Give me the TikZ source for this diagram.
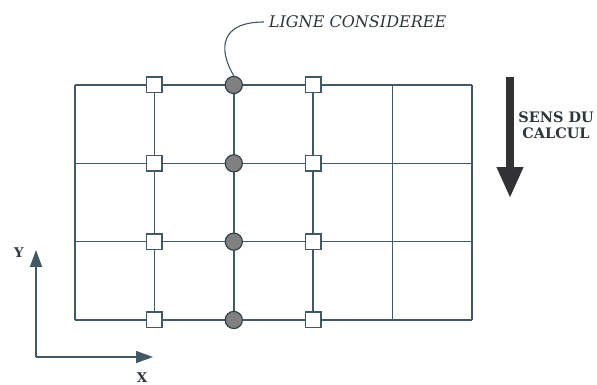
\documentclass[tikz,border=0pt]{standalone}
\usepackage{fontspec}
\setmainfont{DejaVu Serif}
\usetikzlibrary{arrows.meta}
\definecolor{gridcol}{RGB}{66,88,98}
\definecolor{markcol}{RGB}{128,128,128}
\definecolor{arrowcol}{RGB}{50,50,54}
\definecolor{textcol}{RGB}{45,55,60}
\tikzset{
	gridline/.style={draw=gridcol, line width=1.1pt},
	sqmark/.style={shape=rectangle, draw=gridcol, fill=white, line width=1pt, minimum size=0.39cm, inner sep=0pt},
	cimark/.style={shape=circle, draw=gridcol!70!black, fill=markcol, line width=0.8pt, minimum size=0.43cm, inner sep=0pt},
	axis/.style={draw=gridcol, line width=1pt, -{Triangle[width=8.5pt, length=12pt]}},
	bigarrow/.style={draw=arrowcol, line width=5pt, -{Triangle[width=17.7pt, length=22pt]}}
}

\begin{document}
\begin{tikzpicture}
	\useasboundingbox (0,0) rectangle (14.925,9.625);
	\foreach \i in {0,...,5} \draw[gridline] (1.875+1.985*\i, 1.625) -- (1.875+1.985*\i, 7.5);
	\foreach \j in {0,...,3} \draw[gridline] (1.875, 1.625+1.9583*\j) -- (11.8, 1.625+1.9583*\j);
	\foreach \j in {1,...,4} {
		\node[sqmark](A\j) at (3.86, 9.4583-1.9583*\j){};
		\node[cimark](B\j) at (5.845, 9.4583-1.9583*\j){};
		\node[sqmark](C\j) at (7.83, 9.4583-1.9583*\j){};
	}
	\node[anchor=west, text=textcol, font=\itshape\fontsize{11.4}{13}\selectfont](ligne) at (6.6, 9.075){LIGNE CONSIDEREE};
	\draw[gridline, line width=0.8pt] (B1.north) .. controls (5.45, 8.4) and (5.5, 9.075) .. (ligne.west);
	\coordinate (senstop) at (12.75, 7.7);
	\coordinate (senstip) at (12.75, 4.675);
	\draw[bigarrow] (senstop) -- (senstip);
	\node[align=center, text=textcol, font=\bfseries\fontsize{10.3}{11.5}\selectfont](sens) at (13.9, 6.5){SENS DU\\CALCUL};
	\coordinate (origin) at (0.9, 0.7);
	\coordinate (ytip) at (0.9, 3.375);
	\coordinate (xtip) at (3.825, 0.7);
	\draw[axis] (origin) -- (ytip);
	\draw[axis] (origin) -- (xtip);
	\node[text=textcol, font=\bfseries\fontsize{9.5}{10}\selectfont](ylab) at (0.475, 3.3){Y};
	\node[text=textcol, font=\bfseries\fontsize{9.5}{10}\selectfont](xlab) at (3.55, 0.175){X};
\end{tikzpicture}
\end{document}
